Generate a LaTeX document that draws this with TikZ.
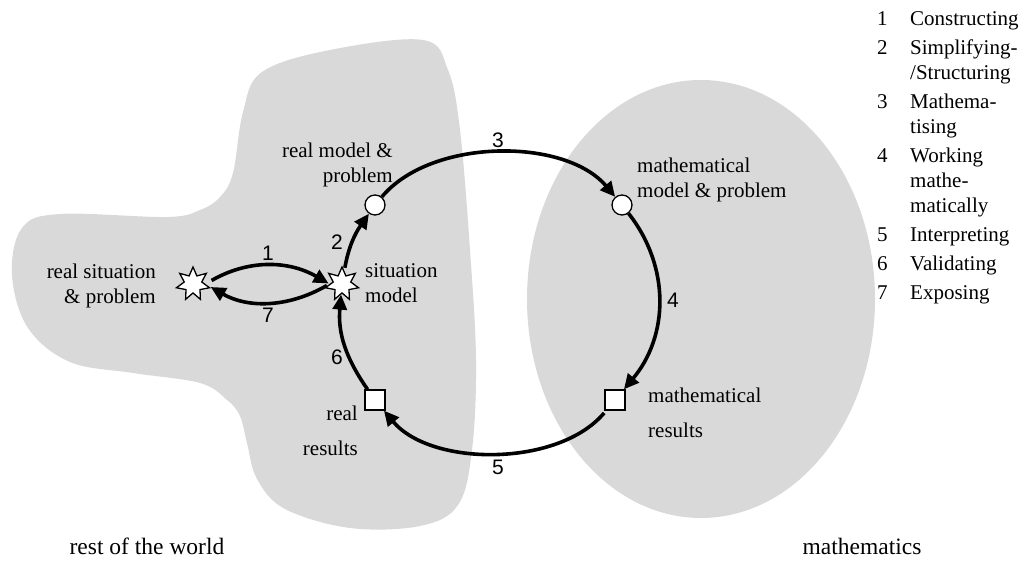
\documentclass[tikz,border=0pt]{standalone}
\usepackage{fontspec}
\setmainfont{Liberation Serif}
\newfontfamily\numfont{Liberation Sans}
\usetikzlibrary{shapes.geometric,arrows.meta}
\definecolor{regiongray}{RGB}{217,217,217}
\begin{document}
\begin{tikzpicture}[x=1pt,y=1pt,
  region/.style={fill=regiongray,draw=none},
  lbl/.style={font=\fontsize{21}{25}\selectfont, inner sep=0pt},
  reglbl/.style={font=\fontsize{23.5}{28}\selectfont, inner sep=0pt, anchor=base},
  numlbl/.style={font=\numfont\fontsize{21}{25}\selectfont, inner sep=0pt},
  starnode/.style={star, star points=7, star point ratio=1.9, minimum size=34pt, inner sep=0pt, draw, fill=white, line width=1.3pt},
  circnode/.style={circle, minimum size=20pt, inner sep=0pt, draw, fill=white, line width=1.3pt},
  sqnode/.style={rectangle, minimum size=20pt, inner sep=0pt, draw, fill=white, line width=1.3pt},
  flow/.style={line width=3.6pt, -{Triangle[length=15pt,width=14pt]}},
]
\useasboundingbox (0,0) rectangle (1025,561);
% regions
\fill[region] plot[smooth cycle, tension=0.6] coordinates {
 (423,521) (448,491) (460,431) (470,311) (476,201) (472,111) (458,56)
 (420,35) (350,33) (285,52) (257,82) (247,118) (240,145) (227,161) (200,178)
 (133,188) (70,199) (28,233) (12,286) (22,333) (60,347) (167,344)
 (200,351) (220,364) (233,388) (243,449) (262,489) (330,511)};
\fill[region] (701,262) ellipse [x radius=174, y radius=219];
% nodes
\node[starnode] (rs) at (193,277) {};
\node[starnode] (sm) at (342,277) {};
\node[circnode] (rm) at (375,356) {};
\node[circnode] (mm) at (622,356) {};
\node[sqnode] (mr) at (615,161) {};
\node[sqnode] (rr) at (375,161) {};
% connectors
\draw[flow, shorten <=7pt, shorten >=1pt] (rs.east) to[out=30,in=150] (sm.west);
\draw[flow, shorten <=3pt, shorten >=6pt] (sm.west) to[out=-150,in=-30] (rs.east);
\draw[flow, shorten <=3pt] (sm) to[out=80,in=235] (rm);
\draw[flow] (rm) to[out=50,in=130,looseness=0.85] (mm);
\draw[flow] (mm) to[out=-52,in=50] (mr);
\draw[flow, shorten <=3pt] (mr) to[out=-130,in=-50,looseness=0.85] (rr);
\draw[flow] (rr) to[out=125,in=-95] (sm);
% step numbers
\node[numlbl] (n1) at (268,308) {1};
\node[numlbl] (n7) at (268,246) {7};
\node[numlbl] (n2) at (337,319) {2};
\node[numlbl] (n6) at (337,204) {6};
\node[numlbl] (n3) at (498,421) {3};
\node[numlbl] (n4) at (673,261) {4};
\node[numlbl] (n5) at (498,94) {5};
% labels
\node[lbl, anchor=east, align=right] (trs) at (156,275.5) {real situation\\\& problem};
\node[lbl, anchor=west, align=left] (tsm) at (365,277.5) {situation\\model};
\node[lbl, anchor=east, align=right] (trm) at (393,396) {real model \&\\problem};
\node[lbl, anchor=west, align=left] (tmm) at (637,381.5) {mathematical\\model \& problem};
\node[lbl, anchor=east, align=right] (trr) at (358,130.5) {real\\[10pt]results};
\node[lbl, anchor=west, align=left] (tmr) at (648,148.5) {mathematical\\[10pt]results};
\node[reglbl] (world) at (147,6) {rest of the world};
\node[reglbl] (maths) at (862,6) {mathematics};
% legend
\node[lbl, anchor=north west] (legend) at (877,553.5) {%
\begin{tabular}{@{}p{33pt}@{}l@{}}
1 & Constructing\\[4pt]
2 & Simplifying-\\
  & /Structuring\\[4pt]
3 & Mathema-\\
  & tising\\[4pt]
4 & Working\\
  & mathe-\\
  & matically\\[4pt]
5 & Interpreting\\[4pt]
6 & Validating\\[4pt]
7 & Exposing
\end{tabular}};
\end{tikzpicture}
\end{document}
